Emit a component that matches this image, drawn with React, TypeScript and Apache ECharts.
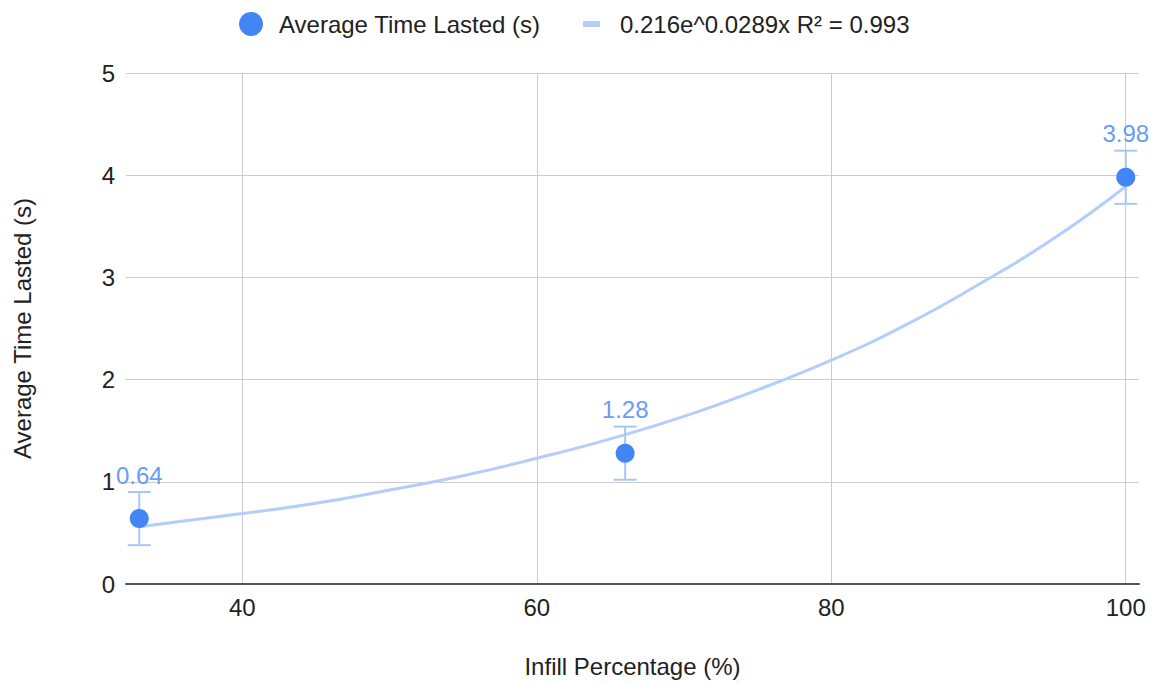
import React, { useEffect, useRef } from "react";
import * as echarts from "echarts";

const infill = [33, 66, 100];
const avgTime = [0.64, 1.28, 3.98];
const errLow = [0.38, 1.02, 3.72];
const errHigh = [0.9, 1.54, 4.24];

const trendX = [33, 40, 45, 50, 55, 60, 65, 70, 75, 80, 85, 90, 95, 100];
const trendY = [0.56, 0.69, 0.79, 0.92, 1.06, 1.23, 1.42, 1.64, 1.9, 2.19, 2.53, 2.93, 3.37, 3.89];

const xTicks = [40, 60, 80, 100];

const seriesName = "Average Time Lasted (s)";
const trendName = "0.216e^0.0289x R\u00b2 = 0.993";

export default function App() {
  const ref = useRef<HTMLDivElement>(null);
  useEffect(() => {
    if (!ref.current) return;
    const chart = echarts.init(ref.current, null, { renderer: "svg" });
    const font = "'Liberation Sans', Arial, sans-serif";
    const errData = infill.map((x, i) => [x, errLow[i], errHigh[i]]);
    chart.setOption({
      animation: false,
      textStyle: { fontFamily: font },
      legend: [
        {
          left: 234,
          top: 7,
          itemWidth: 46,
          itemHeight: 24,
          data: [{ name: seriesName, icon: "circle" }],
          itemStyle: { opacity: 1 },
          textStyle: { fontSize: 24, color: "#222", fontFamily: font },
        },
        {
          left: 578,
          top: 7,
          itemWidth: 47,
          itemHeight: 6,
          data: [{ name: trendName, icon: "path://M0,0 H17 V6 H0 Z" }],
          textStyle: { fontSize: 24, color: "#222", fontFamily: font },
        },
      ],
      grid: { left: 126, right: 15, top: 73, bottom: 98 },
      xAxis: {
        type: "value",
        min: 32.1,
        max: 100.9,
        name: "Infill Percentage (%)",
        nameLocation: "middle",
        nameGap: 70,
        nameTextStyle: { fontSize: 24, color: "#222", fontFamily: font },
        axisLine: { show: true, onZero: false, lineStyle: { color: "#555", width: 2 } },
        axisTick: { show: false, customValues: xTicks },
        axisLabel: { customValues: xTicks, fontSize: 24, color: "#222", margin: 11, fontFamily: font },
        splitLine: { show: true, lineStyle: { color: "#ccc", width: 1 } },
      },
      yAxis: {
        type: "value",
        min: 0,
        max: 5,
        interval: 1,
        name: "Average Time Lasted (s)",
        nameLocation: "middle",
        nameGap: 92,
        nameTextStyle: { fontSize: 24, color: "#222", fontFamily: font },
        axisLine: { show: false },
        axisTick: { show: false },
        axisLabel: { fontSize: 24, color: "#222", margin: 11, fontFamily: font },
        splitLine: { show: true, lineStyle: { color: "#ccc", width: 1 } },
      },
      series: [
        {
          name: trendName,
          type: "line",
          data: trendX.map((x, i) => [x, trendY[i]]),
          smooth: true,
          showSymbol: false,
          symbol: "none",
          color: "#b3cefb",
          lineStyle: { color: "#b3cefb", width: 3 },
          z: 2,
        },
        {
          type: "custom",
          name: "err",
          data: errData,
          z: 3,
          silent: true,
          renderItem: (params: any, api: any) => {
            const x = api.value(0);
            const lo = api.coord([x, api.value(1)]);
            const hi = api.coord([x, api.value(2)]);
            const hw = 11.5;
            const style = { stroke: "#a9c6f8", lineWidth: 2 };
            return {
              type: "group",
              children: [
                { type: "line", shape: { x1: lo[0], y1: lo[1], x2: hi[0], y2: hi[1] }, style },
                { type: "line", shape: { x1: lo[0] - hw, y1: lo[1], x2: lo[0] + hw, y2: lo[1] }, style },
                { type: "line", shape: { x1: hi[0] - hw, y1: hi[1], x2: hi[0] + hw, y2: hi[1] }, style },
              ],
            };
          },
        },
        {
          name: seriesName,
          type: "scatter",
          data: infill.map((x, i) => [x, avgTime[i]]),
          symbolSize: 19,
          color: "#4285f4",
          itemStyle: { color: "#4285f4", opacity: 1 },
          z: 4,
          label: {
            show: true,
            position: "top",
            distance: 22,
            fontSize: 24,
            color: "#6a9cf5",
            fontFamily: font,
            formatter: (p: any) => p.value[1].toFixed(2),
          },
        },
      ],
    });
    return () => chart.dispose();
  }, []);
  return (
    <div
      ref={ref}
      style={{ position: "absolute", left: 0, top: 0, width: 1154, height: 683 }}
    />
  );
}
